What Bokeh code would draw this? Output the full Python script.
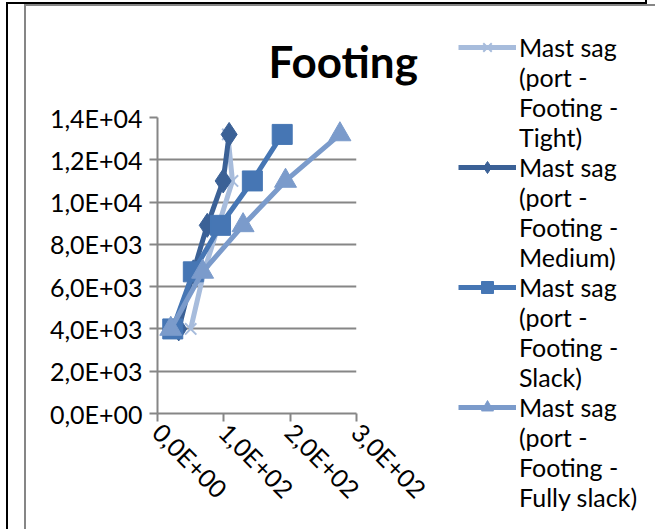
import math
from bokeh.plotting import figure
from bokeh.models import (Range1d, FixedTicker, CustomJSTickFormatter, Legend, LegendItem, Title)
from bokeh.embed import file_html
from bokeh.resources import INLINE

# Load steps (y) and mast sag readings (x) for each footing setting
load = [4000, 6700, 8900, 11000, 13200]
sag_tight = [50, 70, 92, 113, 106]
sag_medium = [32, 54, 75, 99, 108]
sag_slack = [23, 54, 95, 143, 188]
sag_fully_slack = [20, 68, 129, 193, 275]

x_ticks = [0, 100, 200, 300]
y_ticks = [0, 2000, 4000, 6000, 8000, 10000, 12000, 14000]

series_names = [
    ["Mast sag", "(port -", "Footing -", "Tight)"],
    ["Mast sag", "(port -", "Footing -", "Medium)"],
    ["Mast sag", "(port -", "Footing -", "Slack)"],
    ["Mast sag", "(port -", "Footing -", "Fully slack)"],
]

FONT = "Lato"
GRID = "#868686"

p = figure(frame_width=199, frame_height=296, output_backend="svg", toolbar_location=None,
           x_range=Range1d(0, 300), y_range=Range1d(0, 14000),
           min_border_left=157, min_border_right=299, min_border_top=117, min_border_bottom=116)
p.outline_line_color = None
p.background_fill_color = "white"
p.border_fill_alpha = 0

# page frame lines painted behind the transparent canvas border
p.styles = {"background": (
    "linear-gradient(#000,#000) 6px 3px / 2px 526px no-repeat,"
    "linear-gradient(#000,#000) 6px 2px / 641px 2px no-repeat,"
    "linear-gradient(#000,#000) 645px 0px / 2px 4px no-repeat,"
    "linear-gradient(#868686,#868686) 24px 4px / 2px 525px no-repeat,"
    "linear-gradient(#868686,#868686) 24px 4px / 631px 2px no-repeat,"
    "white")}

sci = CustomJSTickFormatter(code="""
const s = tick.toExponential(1).split('e');
const m = s[0].replace('.', ',');
let e = parseInt(s[1]);
const sign = e < 0 ? '-' : '+';
e = Math.abs(e);
return m + 'E' + sign + (e < 10 ? '0' : '') + e;
""")

for ax in (p.xaxis[0], p.yaxis[0]):
    ax.formatter = sci
    ax.axis_line_color = GRID
    ax.axis_line_width = 2
    ax.major_tick_line_color = GRID
    ax.major_tick_line_width = 2
    ax.major_tick_in = 0
    ax.major_tick_out = 8
    ax.minor_tick_line_color = None
    ax.major_label_text_font = FONT
    ax.major_label_text_font_size = "25px"
    ax.major_label_text_color = "black"

p.xaxis.ticker = FixedTicker(ticks=x_ticks)
p.yaxis.ticker = FixedTicker(ticks=y_ticks)
p.xaxis.major_label_orientation = -math.pi / 4
p.yaxis.major_label_standoff = 7
p.xaxis.major_label_standoff = 6

p.xgrid.grid_line_color = None
p.ygrid.grid_line_color = GRID
p.ygrid.grid_line_width = 2

p.title = Title(text="Footing", text_font=FONT, text_font_size="44px",
                text_font_style="bold", text_color="black", align="left", offset=111)
p.title.standoff = 61

colors = ["#A7BCDC", "#3B6196", "#4676B4", "#7B9BCB"]
series = [sag_tight, sag_medium, sag_slack, sag_fully_slack]

# transparent stand-in used for the continuation lines of each legend label
blank = p.line(x=[], y=[], line_alpha=0)

items = []
for i, (xs, c) in enumerate(zip(series, colors)):
    ln = p.line(xs, load, line_color=c, line_width=5)
    if i == 0:
        mk = p.scatter(xs, load, marker="x", size=16, line_color=c, line_width=2)
    elif i == 1:
        mk = p.scatter(xs, load, marker="diamond", size=24, fill_color=c, line_color=c)
    elif i == 2:
        mk = p.scatter(xs, load, marker="square", size=20, fill_color=c, line_color=c)
    else:
        mk = p.scatter(xs, load, marker="triangle", size=22, fill_color=c, line_color=c)
    lines = series_names[i]
    items.append(LegendItem(label=lines[0], renderers=[ln, mk]))
    for extra in lines[1:]:
        items.append(LegendItem(label=extra, renderers=[blank]))

legend = Legend(items=items, location=(102, -99), orientation="vertical",
                label_text_font=FONT, label_text_font_size="25px", label_text_color="black",
                label_height=30, glyph_width=58, glyph_height=30, spacing=0, padding=0, margin=0,
                label_standoff=3, border_line_color=None, background_fill_alpha=0)
p.add_layout(legend, "right")

open("out.html", "w").write(file_html(p, INLINE))
